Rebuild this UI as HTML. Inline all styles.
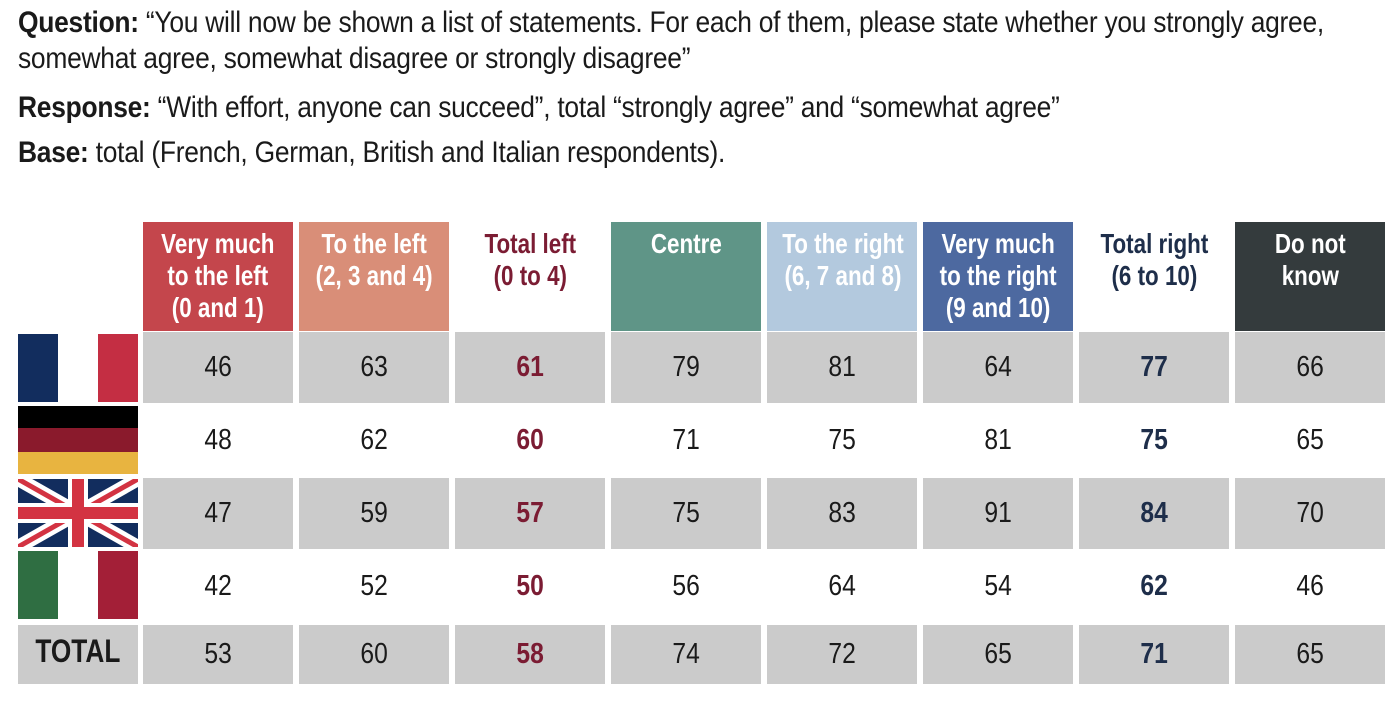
<!DOCTYPE html>
<html><head><meta charset="utf-8"><style>
*{margin:0;padding:0}
body{width:1398px;height:702px;background:#fff;position:relative;overflow:hidden;font-family:"Liberation Sans Narrow","Liberation Sans",sans-serif;color:#1a1a1a}
.t{position:absolute;left:18px;font-size:30px;white-space:nowrap;transform:scaleX(0.88);transform-origin:0 0;letter-spacing:-0.3px}
.t b{font-weight:bold}
.c{position:absolute;width:150px;text-align:center;display:flex;align-items:center;justify-content:center;font-size:29px}
.c span{display:inline-block;transform:scaleX(0.85)}
.h{position:absolute;width:150px;top:222px;height:109px;text-align:center;font-size:28px;line-height:32px;padding-top:6px;box-sizing:border-box;color:#fff;font-weight:bold;white-space:nowrap}
.h span{display:inline-block;transform:scaleX(0.8)}
.g{background:#cbcbcb}
.f{position:absolute;left:18px;width:120px}
</style></head><body>
<div class="t" style="top:6px"><b>Question:</b> “You will now be shown a list of statements. For each of them, please state whether you strongly agree,</div>
<div class="t" style="top:42px">somewhat agree, somewhat disagree or strongly disagree”</div>
<div class="t" style="top:91px"><b>Response:</b> “With effort, anyone can succeed”, total “strongly agree” and “somewhat agree”</div>
<div class="t" style="top:136px"><b>Base:</b> total (French, German, British and Italian respondents).</div>

<div class="h" style="left:143px;background:#c4464c"><span>Very much<br>to the left<br>(0 and 1)</span></div>
<div class="h" style="left:299px;background:#d98e78"><span>To the left<br>(2, 3 and 4)</span></div>
<div class="h" style="left:455px;color:#7b1c33"><span>Total left<br>(0 to 4)</span></div>
<div class="h" style="left:611px;background:#5f9587"><span>Centre</span></div>
<div class="h" style="left:767px;background:#b3c9de"><span>To the right<br>(6, 7 and 8)</span></div>
<div class="h" style="left:923px;background:#4d69a0"><span>Very much<br>to the right<br>(9 and 10)</span></div>
<div class="h" style="left:1079px;color:#1e2e4a"><span>Total right<br>(6 to 10)</span></div>
<div class="h" style="left:1235px;background:#343b3d"><span>Do not<br>know</span></div>

<div class="f" style="top:334px;height:68px;background:linear-gradient(90deg,#122d5e 0 40px,#fff 40px 80px,#c42e43 80px)"></div>
<div class="f" style="top:406px;height:68px;background:linear-gradient(#000 0 22px,#8a1a2c 22px 46px,#e8b440 46px)"></div>
<svg class="f" style="top:479px;height:68px" viewBox="0 0 60 34" preserveAspectRatio="none"><rect width="60" height="34" fill="#122d5e"/><path d="M0,0L60,34M60,0L0,34" stroke="#fff" stroke-width="7"/><path d="M0,0L60,34M60,0L0,34" stroke="#d33342" stroke-width="2.5"/><path d="M30,0V34M0,17H60" stroke="#fff" stroke-width="10"/><path d="M30,0V34M0,17H60" stroke="#d33342" stroke-width="6"/></svg>
<div class="f" style="top:551px;height:68px;background:linear-gradient(90deg,#2f6e42 0 40px,#fff 40px 80px,#a31f37 80px)"></div>
<div class="f g" style="top:625px;height:59px;display:flex;align-items:center;justify-content:center;font-size:32px;font-weight:bold"><span style="display:inline-block;transform:scaleX(0.82);margin-top:-6px">TOTAL</span></div>

<div id="rows"></div>
<script>
var data=[[46,63,61,79,81,64,77,66],[48,62,60,71,75,81,75,65],[47,59,57,75,83,91,84,70],[42,52,50,56,64,54,62,46],[53,60,58,74,72,65,71,65]];
var tops=[[332,71],[405,71],[478,71],[551,70],[625,59]];
var lefts=[143,299,455,611,767,923,1079,1235];
var h='';
data.forEach(function(r,i){r.forEach(function(v,j){
var st='left:'+lefts[j]+'px;top:'+tops[i][0]+'px;height:'+tops[i][1]+'px;';
if(j==2)st+='color:#7b1c33;font-weight:bold;';
if(j==6)st+='color:#1e2e4a;font-weight:bold;';
h+='<div class="c'+(i%2==0?' g':'')+'" style="'+st+'"><span>'+v+'</span></div>';});});
document.getElementById('rows').innerHTML=h;
</script>
</body></html>
